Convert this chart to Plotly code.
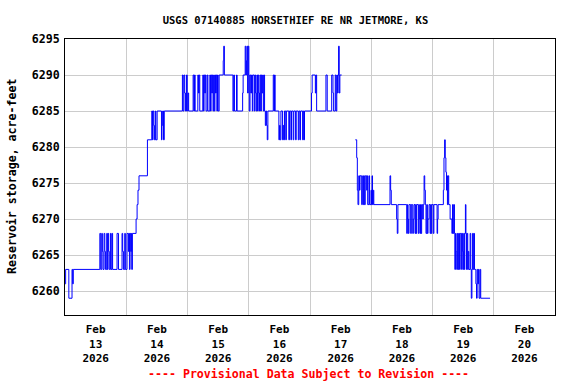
import pandas as pd
import plotly.graph_objects as go

# ---- data: reservoir storage (acre-feet), times as hours after 2026-02-13 00:00 ----
start = "2026-02-13 00:00"

hours_feb13_14 = [0.0, 0.25, 1.5, 2.75, 3.0, 3.25,
                  13.65, 14.0, 14.4, 14.65, 14.9, 15.3, 15.6, 15.85, 16.35, 16.6, 16.85, 17.1, 17.35, 17.8, 18.05, 18.4, 18.65,
                  20.4, 20.95, 22.35, 22.6, 22.9, 23.4, 23.65, 24.3, 24.85, 25.1, 25.25, 25.5, 25.75, 26.0, 26.15, 26.4,
                  27.85, 28.25, 28.6, 29.0, 32.3,
                  34.0, 34.3, 34.5, 34.8, 35.05, 35.4, 35.6, 36.1,
                  37.8, 38.0, 38.25, 38.6, 38.9,
                  46.0, 46.25, 46.6, 46.9, 47.2, 47.6, 47.9]
storage_feb13_14 = [6261, 6263, 6259, 6263, 6261, 6263,
                    6268, 6263, 6268, 6265.5, 6263, 6268, 6265.5, 6263, 6268, 6263, 6268, 6265.5, 6263, 6268, 6263, 6268, 6263,
                    6268, 6263, 6268, 6265.5, 6263, 6268, 6263, 6268, 6265.5, 6268, 6263, 6268, 6265.5, 6268, 6263, 6268,
                    6270, 6272, 6274, 6276, 6281,
                    6285, 6281, 6285, 6283, 6281, 6285, 6281, 6285,
                    6281, 6283, 6285, 6281, 6285,
                    6290, 6285, 6290, 6287.5, 6285, 6290, 6285]

hours_feb15 = [48.2, 48.45,
               50.2, 50.5, 50.75, 51.0,
               52.05, 52.3, 52.55, 52.8,
               54.0, 54.25, 54.5, 54.75, 55.0, 55.25,
               55.75, 56.0,
               56.75, 57.0, 57.25, 57.5, 57.75, 58.0, 58.25, 58.5, 58.75, 59.0, 59.25, 59.5, 59.75, 60.0,
               60.4, 62.0, 62.2, 62.45,
               65.8, 66.1, 66.4,
               67.2, 67.45,
               69.6, 69.8,
               70.6, 70.85, 71.1, 71.3, 71.55, 71.8, 72.05]
storage_feb15 = [6287.5, 6285,
                 6290, 6285, 6290, 6285,
                 6290, 6287.5, 6290, 6285,
                 6290, 6285, 6290, 6287.5, 6290, 6285,
                 6290, 6285,
                 6290, 6285, 6290, 6287.5, 6290, 6285, 6290, 6285, 6290, 6287.5, 6290, 6285, 6290, 6285,
                 6290, 6292, 6294, 6290,
                 6285, 6290, 6285,
                 6290, 6285,
                 6287.5, 6290,
                 6294, 6290, 6292, 6294, 6287.5, 6294, 6290]

hours_feb16 = [72.2, 72.5, 72.8, 73.1, 73.4, 73.6,
               74.2, 74.45, 74.7, 74.95, 75.2, 75.45, 75.7, 75.95, 76.2, 76.45, 76.7, 76.95, 77.2, 77.45, 77.7, 77.95, 78.2,
               78.5, 78.75, 79.0, 79.25, 79.5,
               81.6, 81.9, 82.1, 82.35,
               83.8, 84.05, 84.3, 84.6, 85.25, 85.5, 85.75, 86.0, 86.5, 86.75, 87.7, 87.95, 88.5, 88.75,
               89.4, 89.65, 90.35, 90.6, 91.4, 91.65, 92.05, 92.3, 93.1, 93.35, 93.6, 93.85]
storage_feb16 = [6285, 6290, 6287.5, 6290, 6285, 6290,
                 6285, 6290, 6287.5, 6285, 6290, 6285, 6290, 6287.5, 6285, 6290, 6285, 6290, 6287.5, 6290, 6285, 6290, 6285,
                 6283, 6285, 6283, 6281, 6285,
                 6290, 6285, 6290, 6285,
                 6281, 6283, 6281, 6285, 6281, 6283, 6281, 6285, 6281, 6285, 6281, 6285, 6281, 6285,
                 6281, 6285, 6281, 6285, 6281, 6285, 6281, 6285, 6281, 6285, 6281, 6285]

hours_feb17 = [96.6, 96.85, 98.1, 98.35, 98.6,
               102.25, 102.75,
               104.5, 105.0, 105.25, 105.9, 106.2, 106.5, 106.75, 107.0, 107.2, 107.45, 107.7, 108.4,
               108.5,
               113.75, 114.3, 114.55, 114.8, 115.1, 115.4, 115.6, 116.25, 116.5, 116.65, 116.9, 117.1, 117.3, 117.65,
               118.2, 118.4, 118.6, 119.1, 119.35, 119.9, 120.1, 120.3, 120.5, 120.8, 121.0]
storage_feb17 = [6287.5, 6290, 6287.5, 6290, 6285,
                 6290, 6285,
                 6290, 6287.5, 6285, 6290, 6285, 6290, 6287.5, 6290, 6294, 6287.5, 6290, 6290,
                 None,
                 6281, 6278.5, 6274, 6272, 6276, 6274, 6276, 6272, 6274, 6276, 6272, 6276, 6272, 6276,
                 6274, 6276, 6272, 6276, 6272, 6274, 6272, 6276, 6272, 6274, 6272]

hours_feb18 = [127.35, 127.6, 127.85,
               129.95, 130.2, 130.45,
               133.9, 134.15, 134.3, 134.55, 134.8, 135.45, 135.7, 136.25, 136.5, 136.75, 137.15, 137.4, 137.6, 137.8,
               138.45, 138.7, 138.85, 139.1, 139.3, 139.5, 139.75, 140.15, 140.4, 140.7, 140.95, 141.2, 141.45, 141.75,
               142.0, 142.25, 142.65, 143.05, 143.3, 143.5, 143.7, 144.3, 144.55]
storage_feb18 = [6276, 6274, 6272,
                 6270, 6268, 6272,
                 6268, 6272, 6270, 6268, 6272, 6268, 6272, 6268, 6270, 6272, 6268, 6272, 6268, 6272,
                 6268, 6272, 6270, 6268, 6272, 6268, 6272, 6270, 6272, 6276, 6274, 6272, 6268, 6272,
                 6268, 6270, 6272, 6268, 6272, 6268, 6272, 6268, 6272]

hours_feb19 = [145.8, 146.0, 146.2,
               148.25, 148.5, 148.75, 149.0, 149.25, 149.5, 149.6, 149.85, 150.1, 150.35,
               150.9, 151.6, 151.85, 152.1, 152.35, 152.6,
               152.75, 153.0, 153.25, 153.5, 153.75, 154.0, 154.25,
               154.6, 154.85, 155.4, 155.65,
               155.85, 156.05, 156.25, 156.45, 156.65,
               156.9, 157.1,
               157.3, 157.55, 157.8, 158.0, 158.25,
               158.75, 159.0, 159.2, 159.45, 159.7, 159.95, 160.2, 160.45,
               161.0, 161.25, 161.5, 161.75, 162.0, 162.25,
               162.65, 162.9,
               166.55]
storage_feb19 = [6268, 6270, 6272,
                 6274, 6278.5, 6281, 6278.5, 6276.5, 6274, 6276, 6272, 6276, 6272,
                 6270, 6268, 6272, 6268, 6272, 6268,
                 6263, 6268, 6265.5, 6263, 6268, 6263, 6268,
                 6263, 6268, 6263, 6268,
                 6265.5, 6263, 6268, 6263, 6268,
                 6272, 6268,
                 6263, 6268, 6263, 6265.5, 6263,
                 6268, 6263, 6259, 6263, 6268, 6263, 6268, 6263,
                 6261, 6259, 6263, 6261, 6263, 6259,
                 6263, 6259,
                 6259]

tick_days = ["2026-02-13", "2026-02-14", "2026-02-15", "2026-02-16",
             "2026-02-17", "2026-02-18", "2026-02-19", "2026-02-20"]
grid_days = ["2026-02-14", "2026-02-15", "2026-02-16", "2026-02-17",
             "2026-02-18", "2026-02-19", "2026-02-20"]
y_ticks = [6260, 6265, 6270, 6275, 6280, 6285, 6290, 6295]

# ---- assemble ----
hours = (hours_feb13_14 + hours_feb15 + hours_feb16 + hours_feb17
         + hours_feb18 + hours_feb19)
storage = (storage_feb13_14 + storage_feb15 + storage_feb16 + storage_feb17
           + storage_feb18 + storage_feb19)
times = pd.Timestamp(start) + pd.to_timedelta(hours, unit="h")

FONT = "DejaVu Sans Mono"
FS = 11.6

fig = go.Figure()
fig.add_trace(go.Scatter(
    x=times, y=storage, mode="lines",
    line=dict(color="#0000ff", width=1, shape="hv"),
    connectgaps=False, hoverinfo="x+y", showlegend=False,
))

tick_vals = [pd.Timestamp(d) + pd.Timedelta(hours=12) for d in tick_days]
tick_text = [pd.Timestamp(d).strftime("%b<br>%d<br>%Y") for d in tick_days]

fig.update_layout(
    width=576, height=384,
    margin=dict(l=65, r=21, t=39, b=69, pad=0),
    paper_bgcolor="white", plot_bgcolor="white",
    font=dict(family=FONT, size=FS, color="black", weight="bold"),
    title=dict(text="USGS 07140885 HORSETHIEF RE NR JETMORE, KS",
               x=0.513, xanchor="center", y=1 - 20 / 384, yanchor="middle",
               font=dict(family=FONT, size=10.5, color="black", weight="bold")),
    xaxis=dict(
        type="date",
        range=["2026-02-13 00:00", "2026-02-21 00:00"],
        tickmode="array", tickvals=tick_vals, ticktext=tick_text,
        ticks="", showgrid=False, zeroline=False, ticklabelstandoff=4,
        showline=True, mirror=True, linecolor="black", linewidth=1,
        tickfont=dict(family=FONT, size=11, color="black", weight="bold"),
        minor=dict(tickmode="array", tickvals=grid_days, showgrid=True,
                   gridcolor="#cccccc", gridwidth=1, ticks=""),
    ),
    yaxis=dict(
        range=[6256.67, 6295],
        tickmode="array", tickvals=y_ticks,
        ticks="", showgrid=True, gridcolor="#cccccc", gridwidth=1,
        zeroline=False, showline=True, mirror=True,
        linecolor="black", linewidth=1, ticklabelstandoff=2,
        tickfont=dict(family=FONT, size=FS, color="black", weight="bold"),
    ),
    annotations=[
        dict(text="Reservoir storage, acre-feet", textangle=-90,
             xref="paper", yref="paper", x=-53 / 490, y=0.5,
             xanchor="center", yanchor="middle", showarrow=False,
             font=dict(family=FONT, size=FS, color="black", weight="bold")),
        dict(text="---- Provisional Data Subject to Revision ----",
             xref="paper", yref="paper", x=0.496, y=-59 / 276,
             xanchor="center", yanchor="middle", showarrow=False,
             font=dict(family=FONT, size=FS, color="red", weight="bold")),
    ],
)

fig.write_html("out.html")
